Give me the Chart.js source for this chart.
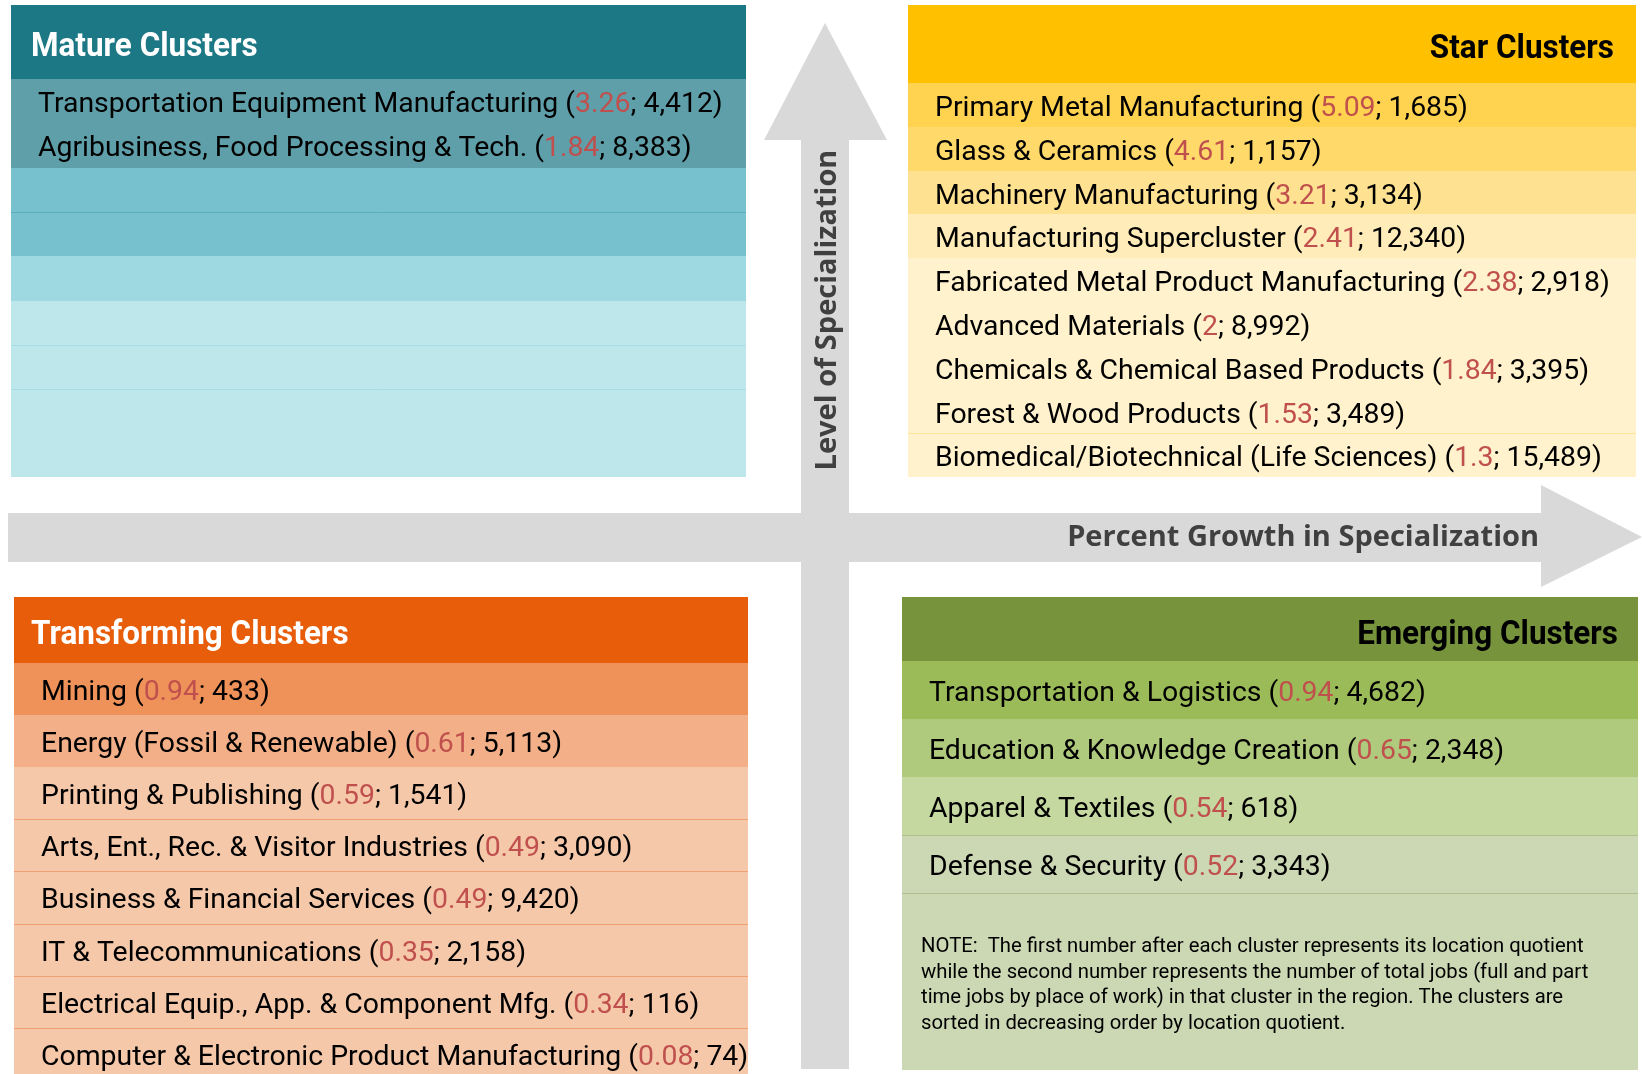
<!DOCTYPE html>
<html>
<head>
<meta charset="utf-8">
<script src="https://cdn.jsdelivr.net/npm/chart.js@4/dist/chart.umd.min.js"></script>
<style>
  html, body { margin: 0; padding: 0; background: #fff; }
  canvas { display: block; }
</style>
</head>
<body>
<canvas id="quad" width="1642" height="1074"></canvas>
<script>
// cluster data: name, location quotient, total jobs
const matureNames = ['Transportation Equipment Manufacturing', 'Agribusiness, Food Processing & Tech.'];
const matureLQ = [3.26, 1.84];
const matureJobs = [4412, 8383];

const starNames = ['Primary Metal Manufacturing', 'Glass & Ceramics', 'Machinery Manufacturing',
  'Manufacturing Supercluster', 'Fabricated Metal Product Manufacturing', 'Advanced Materials',
  'Chemicals & Chemical Based Products', 'Forest & Wood Products', 'Biomedical/Biotechnical (Life Sciences)'];
const starLQ = [5.09, 4.61, 3.21, 2.41, 2.38, 2, 1.84, 1.53, 1.3];
const starJobs = [1685, 1157, 3134, 12340, 2918, 8992, 3395, 3489, 15489];

const transNames = ['Mining', 'Energy (Fossil & Renewable)', 'Printing & Publishing',
  'Arts, Ent., Rec. & Visitor Industries', 'Business & Financial Services', 'IT & Telecommunications',
  'Electrical Equip., App. & Component Mfg.', 'Computer & Electronic Product Manufacturing'];
const transLQ = [0.94, 0.61, 0.59, 0.49, 0.49, 0.35, 0.34, 0.08];
const transJobs = [433, 5113, 1541, 3090, 9420, 2158, 116, 74];

const emergNames = ['Transportation & Logistics', 'Education & Knowledge Creation', 'Apparel & Textiles', 'Defense & Security'];
const emergLQ = [0.94, 0.65, 0.54, 0.52];
const emergJobs = [4682, 2348, 618, 3343];

const quadTitles = ['Mature Clusters', 'Star Clusters', 'Transforming Clusters', 'Emerging Clusters'];
const axisTitles = ['Level of Specialization', 'Percent Growth in Specialization'];
const noteLines = [
  'NOTE:  The first number after each cluster represents its location quotient',
  'while the second number represents the number of total jobs (full and part',
  'time jobs by place of work) in that cluster in the region. The clusters are',
  'sorted in decreasing order by location quotient.'
];

// box layout / styles
const boxes = [
  { names: matureNames, lq: matureLQ, jobs: matureJobs, title: quadTitles[0],
    x0: 11, x1: 746, top: 5, head: 79, rowH: 44.3, slots: 8, bottom: 477,
    headFill: '#1d7885', titleColor: '#ffffff', titleAlign: 'left', titleX: 31, titleY: 47, textX: 38,
    fills: ['#5f9fa9', '#5f9fa9', '#76c1cd', '#76c1cd', '#9ed9e2', '#bee7ec', '#bee7ec', '#bee7ec'],
    lines: { 3: '#5aaebd', 6: '#a6dde6', 7: '#a6dde6' } },
  { names: starNames, lq: starLQ, jobs: starJobs, title: quadTitles[1],
    x0: 908, x1: 1636, top: 5, head: 83, rowH: 43.8, slots: 9, bottom: 477,
    headFill: '#ffc000', titleColor: '#000000', titleAlign: 'right', titleX: 1614, titleY: 49, textX: 935,
    fills: ['#ffd350', '#ffda6b', '#ffe291', '#ffecb8', '#fff2cc', '#fff2cc', '#fff2cc', '#fff2cc', '#fff2cc'],
    lines: { 8: '#ffe699' } },
  { names: transNames, lq: transLQ, jobs: transJobs, title: quadTitles[2],
    x0: 14, x1: 748, top: 597, head: 663, rowH: 52.1, slots: 8, bottom: 1074,
    headFill: '#e85d09', titleColor: '#ffffff', titleAlign: 'left', titleX: 31, titleY: 635, textX: 41,
    fills: ['#ee925a', '#f3b088', '#f5c8aa', '#f5c8aa', '#f5c8aa', '#f5c8aa', '#f5c8aa', '#f5c8aa'],
    lines: { 3: '#f0a274', 4: '#f0a274', 5: '#f0a274', 6: '#f0a274', 7: '#f0a274' } },
  { names: emergNames, lq: emergLQ, jobs: emergJobs, title: quadTitles[3],
    x0: 902, x1: 1638, top: 597, head: 661, rowH: 58, slots: 4, bottom: 1070,
    headFill: '#77933c', titleColor: '#000000', titleAlign: 'right', titleX: 1618, titleY: 635, textX: 929,
    fills: ['#9bbb59', '#afc97d', '#c4d89f', '#ccd7b4'], tailFill: '#ccd7b4',
    lines: { 3: '#aebf8c', 4: '#aebf8c' } }
];

const rowFont = '28.4px Roboto';
const titleFont = 'bold 34px Roboto';
const titleStretch = 0.925;
const lqColor = '#c0504d';
const arrowColor = '#d9d9d9';

function stretchedText(ctx, str, x, y, k, align) {
  ctx.save();
  ctx.translate(x, y);
  ctx.scale(k, 1);
  ctx.textAlign = align;
  ctx.fillText(str, 0, 0);
  ctx.restore();
}

function drawRowText(ctx, x, y, name, lq, jobs) {
  const parts = [
    [name + ' (', '#000000'],
    [String(lq), lqColor],
    ['; ' + jobs.toLocaleString('en-US') + ')', '#000000']
  ];
  ctx.save();
  ctx.font = rowFont;
  ctx.textBaseline = 'middle';
  ctx.textAlign = 'left';
  let cx = x;
  parts.forEach(p => {
    ctx.fillStyle = p[1];
    ctx.fillText(p[0], cx, y);
    cx += ctx.measureText(p[0]).width;
  });
  ctx.restore();
}

const quadPlugin = {
  id: 'quadrants',
  afterDraw(chart) {
    const ctx = chart.ctx;
    const X = v => Math.round(chart.scales.x.getPixelForValue(v));
    const Y = v => Math.round(chart.scales.y.getPixelForValue(v));

    // axis arrows
    ctx.save();
    ctx.fillStyle = arrowColor;
    ctx.beginPath();
    ctx.moveTo(X(825), Y(23));
    ctx.lineTo(X(887), Y(140));
    ctx.lineTo(X(849), Y(140));
    ctx.lineTo(X(849), Y(1069));
    ctx.lineTo(X(801), Y(1069));
    ctx.lineTo(X(801), Y(140));
    ctx.lineTo(X(764), Y(140));
    ctx.closePath();
    ctx.fill();
    ctx.beginPath();
    ctx.moveTo(X(8), Y(513));
    ctx.lineTo(X(1541), Y(513));
    ctx.lineTo(X(1541), Y(485));
    ctx.lineTo(X(1642), Y(537));
    ctx.lineTo(X(1541), Y(587));
    ctx.lineTo(X(1541), Y(562));
    ctx.lineTo(X(8), Y(562));
    ctx.closePath();
    ctx.fill();
    ctx.restore();

    // axis titles
    ctx.save();
    ctx.fillStyle = '#404040';
    ctx.font = 'bold 29px "Open Sans"';
    ctx.textBaseline = 'alphabetic';
    ctx.translate(X(836), Y(310));
    ctx.rotate(-Math.PI / 2);
    ctx.textAlign = 'center';
    ctx.fillText(axisTitles[0], 0, 0);
    ctx.restore();
    ctx.save();
    ctx.fillStyle = '#404040';
    ctx.font = 'bold 29px "Open Sans"';
    ctx.textBaseline = 'alphabetic';
    ctx.textAlign = 'right';
    ctx.fillText(axisTitles[1], X(1539), Y(546));
    ctx.restore();

    // quadrant boxes
    boxes.forEach(b => {
      const w = X(b.x1) - X(b.x0);
      ctx.fillStyle = b.headFill;
      ctx.fillRect(X(b.x0), Y(b.top), w, Y(b.head) - Y(b.top));
      for (let i = 0; i < b.slots; i++) {
        const y0 = b.head + i * b.rowH;
        const y1 = (i === b.slots - 1 && !b.tailFill) ? b.bottom : y0 + b.rowH;
        ctx.fillStyle = b.fills[i];
        ctx.fillRect(X(b.x0), Y(y0), w, Y(y1) - Y(y0));
      }
      if (b.tailFill) {
        const y0 = b.head + b.slots * b.rowH;
        ctx.fillStyle = b.tailFill;
        ctx.fillRect(X(b.x0), Y(y0), w, Y(b.bottom) - Y(y0));
      }
      Object.keys(b.lines).forEach(k => {
        const yy = Y(b.head + Number(k) * b.rowH) + 0.5;
        ctx.strokeStyle = b.lines[k];
        ctx.lineWidth = 1;
        ctx.beginPath();
        ctx.moveTo(X(b.x0), yy);
        ctx.lineTo(X(b.x1), yy);
        ctx.stroke();
      });
      ctx.save();
      ctx.font = titleFont;
      ctx.fillStyle = b.titleColor;
      ctx.textBaseline = 'middle';
      stretchedText(ctx, b.title, X(b.titleX), Y(b.titleY), titleStretch, b.titleAlign);
      ctx.restore();
      b.names.forEach((n, i) => {
        drawRowText(ctx, X(b.textX), Y(b.head + (i + 0.5) * b.rowH + 4), n, b.lq[i], b.jobs[i]);
      });
    });

    // note
    ctx.save();
    ctx.font = '20.3px Roboto';
    ctx.fillStyle = '#000000';
    ctx.textBaseline = 'alphabetic';
    ctx.textAlign = 'left';
    noteLines.forEach((t, i) => ctx.fillText(t, X(921), Y(952 + i * 25.7)));
    ctx.restore();
  }
};

new Chart(document.getElementById('quad'), {
  type: 'scatter',
  data: { datasets: [] },
  options: {
    responsive: false,
    devicePixelRatio: 1,
    animation: false,
    layout: { padding: 0 },
    scales: {
      x: { type: 'linear', min: 0, max: 1642, display: false },
      y: { type: 'linear', min: 0, max: 1074, reverse: true, display: false }
    },
    plugins: { legend: { display: false }, tooltip: { enabled: false } }
  },
  plugins: [quadPlugin]
});
</script>
</body>
</html>
